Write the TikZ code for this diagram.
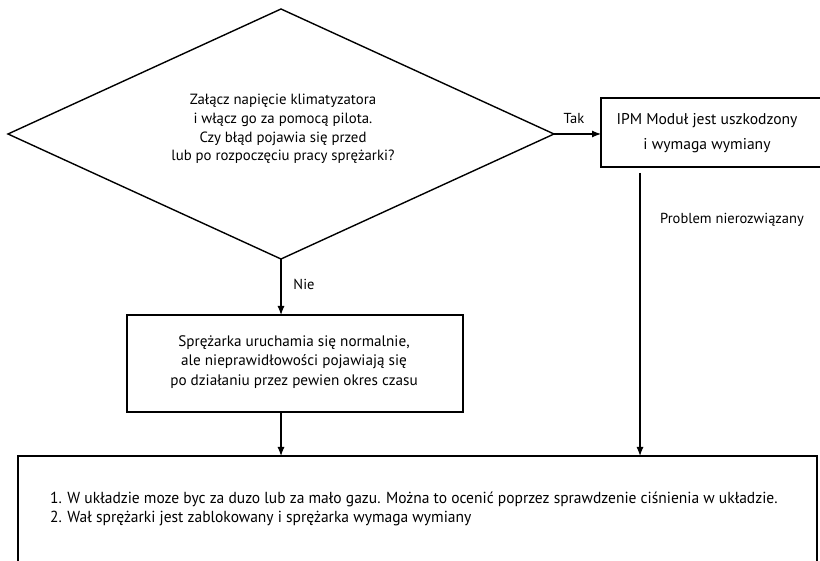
\documentclass[tikz,border=0pt]{standalone}
\usepackage{fontspec}
\setmainfont{PT Sans}
\newfontfamily\condfont[FakeStretch=0.97]{PT Sans}
\usetikzlibrary{shapes.geometric,arrows.meta}
\tikzset{
  arr/.style={line width=1.2pt,-{Latex[length=9pt,width=7pt]}},
  box/.style={draw,line width=1.6pt,rectangle,inner sep=0pt,outer sep=0pt},
  txt/.style={align=center,inner sep=0pt},
  lbl/.style={font=\fontsize{14.5}{16}\selectfont,inner sep=0pt},
}
\begin{document}
\begin{tikzpicture}[x=1pt,y=-1pt]
\useasboundingbox[fill=white] (0,0) rectangle (820,561);
\begin{scope}
\clip (0,0) rectangle (820,561);
% decision diamond
\node (dec) [draw,line width=1.4pt,diamond,minimum width=546pt,minimum height=250pt,inner sep=0pt,outer sep=0pt] at (281,134) {};
\node (dectxt) [txt,font=\fontsize{14.8}{18.7}\selectfont] at (283,129) {Załącz napięcie klimatyzatora\\ i włącz go za pomocą pilota.\\ Czy błąd pojawia się przed\\ lub po rozpoczęciu pracy sprężarki?};
% IPM box
\node (ipm) [box,minimum width=222pt,minimum height=69pt,anchor=north west] at (601,98) {};
\node (ipmtxt) [txt,font=\fontsize{15.6}{25}\selectfont] at (707,133) {IPM Moduł jest uszkodzony\\ i wymaga wymiany};
% compressor box
\node (cmp) [box,minimum width=336pt,minimum height=97pt,anchor=north west] at (127,315) {};
\node (cmptxt) [txt,font=\fontsize{15.2}{19.2}\selectfont] at (294,362) {Sprężarka uruchamia się normalnie,\\ ale nieprawidłowości pojawiają się\\ po działaniu przez pewien okres czasu};
% bottom box
\node (fin) [box,minimum width=799pt,minimum height=140pt,anchor=north west] at (18,456) {};
\node (fintxt) [anchor=west,align=left,inner sep=0pt,font=\condfont\fontsize{16}{19.5}\selectfont] at (50,509) {1. W układzie moze byc za duzo lub za mało gazu. Można to ocenić poprzez sprawdzenie ciśnienia w układzie.\\ 2. Wał sprężarki jest zablokowany i sprężarka wymaga wymiany};
% connectors
\draw[arr] (dec.east) -- (ipm.west |- dec.east);
\node (tak) [lbl] at (574,118) {Tak};
\draw[arr] (dec.south) -- (cmp.north -| dec.south);
\node (nie) [lbl] at (304,284) {Nie};
\coordinate (ipmout) at (640,173);
\draw[arr] (ipmout) -- (fin.north -| ipmout);
\node (prob) [lbl,anchor=west] at (660,220) {Problem nierozwiązany};
\draw[arr] (cmp.south -| dec.south) -- (fin.north -| dec.south);
\end{scope}
\end{tikzpicture}
\end{document}
